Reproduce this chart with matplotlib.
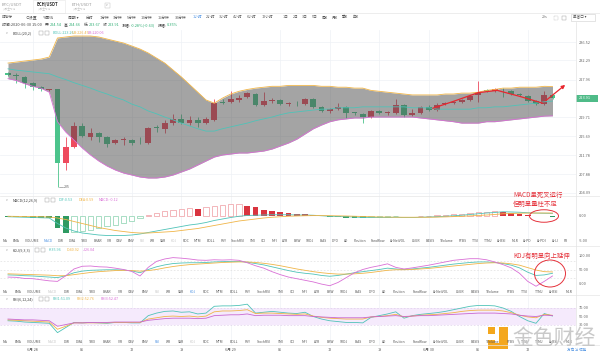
import numpy as np
import matplotlib.pyplot as plt
from matplotlib.patches import Rectangle, Ellipse
from matplotlib.ticker import NullLocator, NullFormatter

plt.rcParams['font.family'] = ['Noto Sans CJK SC', 'DejaVu Sans']

# BCH/USDT 1h candles, 2020-06-27 21:00 .. 2020-06-30 15:00
opens = [229.4, 229.1, 228.6, 227.2, 226.3, 225.6, 225.8, 210.15, 213.46, 217.9,
         215.5, 216.4, 215.5, 214.2, 215.0, 214.9, 214.3, 214.2, 217.7, 217.3,
         218.5, 219.4, 218.5, 219.2, 218.6, 219.2, 223.1, 223.05, 223.5, 224.1,
         224.8, 222.4, 223.3, 223.5, 222.6, 222.9, 222.6, 223.7, 222.0, 221.1,
         221.5, 222.0, 220.8, 220.5, 219.8, 221.1, 220.7, 220.7, 222.4, 220.3,
         220.7, 222.0, 221.3, 222.6, 222.8, 223.05, 223.5, 224.6, 225.6, 225.4,
         225.7, 225.4, 224.8, 224.3, 223.3, 222.6, 224.54]
highs = [229.6, 229.5, 228.8, 227.4, 226.5, 226.0, 226.0, 215.5, 218.75, 218.5,
         217.5, 216.6, 215.7, 215.1, 215.5, 215.1, 215.5, 217.7, 218.1, 219.2,
         220.5, 220.5, 220.0, 219.8, 219.8, 223.7, 223.7, 225.4, 224.6, 225.2,
         225.0, 225.2, 223.9, 223.7, 223.05, 223.3, 223.9, 223.9, 222.2, 221.8,
         222.8, 222.2, 220.9, 220.7, 221.3, 221.3, 221.0, 223.7, 222.6, 221.5,
         222.2, 222.4, 222.8, 223.0, 223.3, 223.7, 224.6, 227.6, 225.8, 226.1,
         226.1, 225.6, 225.0, 224.5, 223.5, 225.4, 224.66]
lows = [228.8, 227.3, 226.2, 225.7, 225.5, 225.4, 205.3, 208.7, 213.2, 215.5,
        214.9, 214.5, 213.4, 214.0, 213.8, 213.8, 214.0, 214.0, 216.6, 216.4,
        218.1, 218.3, 218.1, 217.7, 218.4, 219.0, 222.6, 222.8, 223.0, 223.9,
        222.2, 222.2, 222.8, 222.4, 222.2, 222.2, 222.4, 221.8, 220.9, 220.7,
        221.3, 219.6, 220.3, 218.5, 219.6, 220.5, 220.3, 220.5, 219.8, 220.0,
        220.5, 221.1, 221.1, 222.4, 222.6, 222.9, 223.3, 223.0, 225.2, 225.2,
        224.1, 224.6, 224.3, 223.1, 222.4, 222.4, 223.67]
closes = [229.0, 228.9, 227.2, 226.3, 225.8, 225.8, 210.15, 213.46, 217.9, 215.75,
          216.4, 215.5, 214.0, 214.9, 215.1, 214.2, 214.2, 217.5, 217.4, 218.5,
          219.4, 218.5, 219.2, 218.6, 219.4, 222.84, 222.9, 223.7, 223.9, 225.0,
          222.4, 223.3, 223.5, 222.6, 222.8, 222.8, 223.7, 222.0, 221.1, 221.55,
          222.0, 220.7, 220.7, 219.8, 221.1, 220.7, 220.9, 222.4, 220.3, 220.7,
          222.0, 221.3, 222.4, 222.8, 223.05, 223.5, 224.3, 225.2, 225.4, 225.8,
          225.6, 224.8, 224.55, 223.3, 222.6, 224.55, 223.91]

boll_up = [231.70, 231.93, 232.16, 232.38, 232.61, 233.07, 237.45, 237.68, 237.91, 237.91,
           237.91, 237.68, 237.21, 236.75, 236.29, 235.60, 234.90, 233.99, 232.84, 231.70,
           230.14, 228.6, 226.9, 225.2, 223.5, 222.8, 223.9, 224.8, 225.4, 225.8,
           226.1, 226.3, 226.5, 226.5, 226.7, 226.7, 226.7, 226.7, 226.5, 226.5,
           226.3, 226.3, 226.1, 226.1, 225.6, 225.4, 225.2, 225.0, 224.8, 224.6,
           224.6, 224.6, 224.6, 224.8, 224.8, 225.0, 225.0, 225.2, 225.6, 225.8,
           226.1, 226.1, 226.3, 226.3, 226.3, 226.5, 226.45]
boll_mid = [230.4, 230.1, 229.9, 229.7, 229.5, 229.3, 228.6, 228.0, 227.3, 226.7,
            226.1, 225.4, 224.8, 224.1, 223.5, 222.6, 222.0, 221.1, 220.5, 219.8,
            219.2, 218.5, 217.9, 217.3, 216.8, 216.8, 217.3, 217.7, 218.1, 218.5,
            219.0, 219.4, 219.8, 220.3, 220.7, 220.9, 221.1, 221.3, 221.5, 221.5,
            221.8, 221.8, 221.8, 222.0, 222.0, 222.0, 222.0, 222.0, 222.0, 221.8,
            221.8, 221.8, 221.5, 221.5, 221.5, 221.5, 221.5, 221.8, 221.8, 222.0,
            222.0, 222.2, 222.4, 222.6, 222.8, 223.1, 223.26]
boll_low = [228.2, 227.8, 227.1, 226.5, 226.1, 225.2, 218.8, 216.6, 214.9, 213.25,
            211.80, 210.56, 209.53, 208.72, 208.10, 207.70, 207.29, 207.09, 207.09, 207.29,
            207.70, 208.31, 208.92, 209.74, 210.56, 211.38, 211.80, 212.00, 212.21, 212.21,
            212.42, 212.62, 213.04, 213.67, 214.30, 215.1, 216.2, 217.3, 218.1, 218.8,
            219.2, 219.4, 219.6, 219.6, 219.8, 219.8, 219.8, 219.8, 219.8, 219.8,
            219.6, 219.4, 219.2, 219.0, 218.8, 218.5, 218.5, 218.5, 218.8, 218.8,
            219.0, 219.2, 219.4, 219.6, 219.8, 220.0, 220.06]

dif = [-0.15, -0.2, -0.25, -0.3, -0.35, -0.4, -1.5, -2.4, -3.0, -3.4,
       -3.6, -3.8, -3.9, -3.9, -3.9, -3.8, -3.6, -3.3, -3.0, -2.7,
       -2.4, -2.1, -1.8, -1.6, -1.3, -0.9, -0.6, -0.3, -0.05, 0.1,
       0.15, 0.2, 0.25, 0.25, 0.25, 0.2, 0.2, 0.15, 0.05, -0.05,
       -0.1, -0.15, -0.2, -0.3, -0.3, -0.3, -0.3, -0.25, -0.3, -0.3,
       -0.25, -0.2, -0.15, -0.05, 0.05, 0.15, 0.3, 0.45, 0.6, 0.7,
       0.85, 0.8, 0.75, 0.65, 0.58, 0.55, 0.53]
dea = [-0.05, -0.08, -0.1, -0.12, -0.15, -0.2, -0.4, -0.7, -1.1, -1.5,
       -1.9, -2.3, -2.6, -2.9, -3.1, -3.3, -3.4, -3.4, -3.3, -3.2,
       -3.1, -2.9, -2.7, -2.5, -2.2, -1.9, -1.6, -1.3, -1.0, -0.8,
       -0.6, -0.4, -0.25, -0.15, -0.05, 0.0, 0.05, 0.08, 0.08, 0.06,
       0.03, 0.0, -0.05, -0.1, -0.15, -0.2, -0.22, -0.24, -0.25, -0.25,
       -0.25, -0.25, -0.22, -0.18, -0.12, -0.06, 0.02, 0.1, 0.2, 0.3,
       0.45, 0.5, 0.55, 0.58, 0.6, 0.6, 0.59]
macd_hist = [-0.2, -0.25, -0.3, -0.35, -0.4, -0.4, -2.4, -3.4, -3.3, -3.1,
             -2.8, -2.5, -2.1, -1.8, -1.5, -1.1, -0.5, 0.1, 0.5, 0.9,
             1.2, 1.3, 1.5, 1.45, 1.8, 2.0, 2.2, 2.4, 2.45, 2.0,
             1.7, 1.2, 0.9, 0.7, 0.6, 0.4, 0.3, 0.15, -0.05, -0.2,
             -0.3, -0.4, -0.5, -0.5, -0.3, -0.2, -0.15, -0.05, -0.1, -0.1,
             0.03, 0.05, 0.1, 0.2, 0.3, 0.45, 0.6, 0.75, 0.85, 0.9,
             0.8, 0.6, 0.4, 0.1, -0.05, -0.1, -0.12]

kdj_k = [30, 29, 27, 26, 24, 22, 20, 27, 38, 44,
         47, 48, 49, 49, 48, 45, 38, 50, 60, 67,
         72, 74, 75, 75, 76, 78, 79, 80, 80, 77,
         72, 67, 60, 53, 46, 40, 36, 33, 28, 25,
         28, 33, 38, 42, 46, 50, 55, 52, 50, 52,
         55, 58, 62, 66, 70, 73, 76, 78, 78, 76,
         72, 66, 56, 40, 28, 30, 35.96]
kdj_d = [34, 33, 32, 31, 30, 29, 27, 27, 31, 35,
         39, 42, 44, 46, 47, 46, 44, 46, 50, 56,
         61, 65, 68, 70, 72, 74, 76, 77, 78, 78,
         76, 73, 69, 64, 58, 52, 47, 42, 38, 35,
         33, 33, 34, 36, 39, 43, 47, 49, 49, 50,
         52, 54, 57, 60, 63, 66, 69, 72, 74, 75,
         74, 71, 66, 57, 48, 42, 40.92]
kdj_j = [22, 21, 17, 16, 12, 8, 6, 27, 52, 62,
         63, 60, 59, 55, 50, 43, 26, 58, 80, 89,
         94, 92, 89, 85, 84, 86, 85, 86, 84, 75,
         64, 55, 42, 31, 22, 16, 10, 4, -4, -10,
         2, 20, 38, 50, 58, 64, 71, 58, 52, 56,
         61, 66, 72, 78, 84, 87, 90, 90, 86, 78,
         68, 56, 36, 6, -12, 6, 26.04]

rsi1 = [40, 39, 37, 36, 35, 34, 12, 24, 36, 35,
        36, 35, 34, 36, 36, 35, 35, 52, 58, 62,
        63, 60, 61, 56, 58, 74, 75, 75, 76, 79,
        58, 60, 62, 60, 58, 57, 60, 50, 44, 40,
        38, 36, 36, 35, 48, 52, 56, 61, 46, 52,
        55, 57, 59, 62, 66, 70, 74, 76, 76, 75,
        70, 62, 50, 40, 34, 57, 51.09]
rsi2 = [42, 41, 40, 39, 38, 37, 20, 27, 35, 35,
        35, 35, 35, 36, 36, 36, 36, 44, 47, 50,
        51, 50, 51, 49, 51, 61, 63, 63, 64, 66,
        57, 58, 58, 57, 56, 55, 56, 51, 48, 46,
        45, 44, 44, 44, 49, 50, 52, 55, 49, 51,
        53, 54, 55, 57, 59, 62, 64, 65, 65, 65,
        63, 59, 53, 49, 47, 55, 52.76]
rsi3 = [44, 43, 42, 42, 41, 40, 27, 31, 35, 35,
        36, 36, 36, 37, 37, 37, 37, 41, 43, 45,
        46, 46, 46, 45, 46, 52, 53, 54, 54, 56,
        52, 53, 53, 53, 52, 52, 52, 50, 49, 48,
        47, 47, 47, 47, 49, 50, 51, 52, 50, 51,
        52, 52, 53, 54, 55, 56, 57, 58, 58, 58,
        57, 56, 53, 51, 50, 53, 52.47]

price_ticks = [236.52, 232.29, 227.96, 219.71, 215.69, 211.78, 207.88, 204.09]
last_price = 223.91
date_ticks = [3, 9, 15, 21, 27, 33, 39, 45, 51, 57, 63]
date_labels = ['6月 28', '06', '12', '18', '6月 29', '06', '12', '18', '6月 30', '06', '12']

# hand drawn red trend line on the chart (candle index, price)
trend_i = [51.5, 54, 57, 59.3, 62, 64.8]
trend_p = [221.7, 223.2, 225.1, 225.6, 224.3, 222.8]
arrow_tip = (67.8, 227.2)

periods = ['分时', '1分钟', '3分钟', '5分钟', '10分钟', '15分钟', '30分钟', '1小时', '2小时', '3小时',
           '4小时', '6小时', '12小时', '1日', '2日', '3日', '5日', '周K', '月K', '季K', '年K']
period_x = [86, 100, 113, 127, 141, 158, 175, 193, 206, 219, 233, 247, 262, 283, 293, 302, 312, 322, 332, 342, 353]
tabs_main = ('MA EMA VOLUME MACD DMI DMA TRIX BRAR VR OBV EMV RSI WR SAR KDJ ROC MTM BOLL PSY StochRSI '
             'SMI CCI MFI ATR BBW SKDJ BIAS DPO AD Position Fundflow AI-NetVOL LSUR BASIS TVolume FTBS '
             'TTSI TTMJ AI-BSI MLR').split()
tabs_extra = ['AI-PD', 'AI-PDI', 'AI-LI', 'FR']

W, H = 600, 355
RIGHT = 576
X0, STEP = 8, 8.25
XLIM = (-X0 / STEP, (RIGHT - X0) / STEP)

RED, GREEN = '#ee4b5e', '#4cc48c'
TEAL, ORANGE, PINK = '#4fc3b8', '#f0b548', '#d96fd6'
GRID = '#eef1f6'
TXT = '#666666'
DARK = '#444444'

fig = plt.figure(figsize=(W / 100, H / 100), dpi=100)


def rect(x0, y0, x1, y1):
    return [x0 / W, 1 - y1 / H, (x1 - x0) / W, (y1 - y0) / H]


def panel(y0, y1):
    ax = fig.add_axes(rect(0, y0, RIGHT, y1))
    ax.set_xlim(*XLIM)
    for s in ax.spines.values():
        s.set_visible(False)
    ax.set_xticks([])
    ax.yaxis.tick_right()
    ax.tick_params(axis='y', length=0, pad=2, labelsize=2.8, labelcolor=TXT)
    for d in date_ticks:
        ax.axvline(d, color=GRID, lw=0.5, zorder=0)
    return ax


x = np.arange(len(closes))
o, hi, lo, c = map(np.array, (opens, highs, lows, closes))
up = c >= o
cols = np.where(up, RED, GREEN)

# ---- main candle + BOLL panel ----
ax = panel(30, 196)
ax.set_yscale('log')
ax.set_ylim(203.48, 239.31)
ax.yaxis.set_minor_locator(NullLocator())
ax.yaxis.set_minor_formatter(NullFormatter())
ax.set_yticks(price_ticks)
ax.set_yticklabels([f'{v:.2f}' for v in price_ticks])
for v in price_ticks:
    ax.axhline(v, color=GRID, lw=0.5, zorder=0)
ax.vlines(x, lo, hi, colors=cols, lw=0.6, zorder=2)
ax.bar(x, np.maximum(np.abs(c - o), 0.08), bottom=np.minimum(o, c), width=0.72,
       color=cols, lw=0, zorder=2)
ax.fill_between(x, boll_low, boll_up, color='#4a4a4a', alpha=0.5, lw=0, zorder=3)
ax.plot(x, boll_up, color=ORANGE, lw=0.6, zorder=4)
ax.plot(x, boll_low, color=PINK, lw=0.6, zorder=4)
ax.plot(x, boll_mid, color=TEAL, lw=0.6, zorder=4)
ilow = int(np.argmin(lo))
ax.plot([ilow + 0.2, ilow + 0.7], [lo[ilow]] * 2, color='#777', lw=0.4, zorder=5)
ax.text(ilow + 0.8, lo[ilow], f'{lo[ilow]:.0f}', fontsize=2.6, color='#555', va='center')
ax.plot(trend_i, trend_p, color='#e8262e', lw=0.9, zorder=6)
ax.annotate('', xy=arrow_tip, xytext=(trend_i[-1], trend_p[-1]),
            arrowprops=dict(arrowstyle='-|>', color='#e8262e', lw=0.9, mutation_scale=5))

# ---- MACD ----
am = panel(196, 246)
am.set_ylim(-6.0, 4.0)
am.set_yticks([0, -5])
am.set_yticklabels(['0.00', '-5.00'])
hist = np.array(macd_hist)
prev = np.r_[hist[0], hist[:-1]]
for i, v in enumerate(hist):
    if v >= 0:
        fill_c, edge_c = '#d9343f', '#ee9aa0'
    else:
        fill_c, edge_c = '#2e9a62', '#86d0ad'
    if v <= prev[i]:
        am.bar(i, v, width=0.7, color=fill_c, lw=0, zorder=2)
    else:
        am.bar(i, v, width=0.62, facecolor='white', edgecolor=edge_c, lw=0.5, zorder=2)
am.plot(x, dif, color=TEAL, lw=0.6, zorder=3)
am.plot(x, dea, color=ORANGE, lw=0.6, zorder=3)

# ---- KDJ ----
ak = panel(246, 295)
ak.set_ylim(-44.4, 137.0)
ak.set_yticks([100, 50, 0])
ak.set_yticklabels(['100.00', '50.00', '0.00'])
for v in (80, 50, 20):
    ak.axhline(v, color='#d9d9d9', lw=0.4, ls=(0, (3, 3)), zorder=0)
ak.plot(x, kdj_k, color=TEAL, lw=0.6)
ak.plot(x, kdj_d, color=ORANGE, lw=0.6)
ak.plot(x, kdj_j, color=PINK, lw=0.6)

# ---- RSI ----
ar = panel(295, 345)
ar.set_ylim(-17.1, 100.6)
ar.set_yticks([70, 50, 30])
ar.set_yticklabels(['70.00', '50.00', '30.00'])
ar.axhspan(30, 70, color='#f5eafc', lw=0, zorder=0)
for v in (70, 30):
    ar.axhline(v, color='#d9c9e6', lw=0.4, ls=(0, (3, 3)), zorder=0)
ar.plot(x, rsi1, color=TEAL, lw=0.6)
ar.plot(x, rsi2, color=ORANGE, lw=0.6)
ar.plot(x, rsi3, color='#c866d0', lw=0.6)

# ---- overlay in pixel coordinates ----
ov = fig.add_axes([0, 0, 1, 1], zorder=5)
ov.set_xlim(0, W)
ov.set_ylim(H, 0)
ov.axis('off')


def t(xp, yp, s, size=2.7, color=TXT, **kw):
    return ov.text(xp, yp, s, fontsize=size, color=color, va='center', **kw)


for yy in (12.5, 196, 246, 295, 345):
    ov.plot([0, W], [yy, yy], color='#e6e6e6', lw=0.5)
ov.plot([RIGHT, RIGHT], [22, 345], color='#e3e3e3', lw=0.5)

# pair tabs
ov.add_patch(Rectangle((33, 0), 32, 12.5, facecolor='white', edgecolor='#e6e6e6', lw=0.4))
t(2, 4.2, 'BTC/USDT', 3.0, '#999')
t(37, 4.2, 'BCH/USDT', 3.0, '#333', fontweight='bold')
t(72, 4.2, 'ETH/USDT', 3.0, '#999')
for xp in (3, 38, 73):
    t(xp, 9, '火币全球站', 1.9, '#c4c4c4')
ov.add_patch(Rectangle((105, 3), 5, 5, facecolor='white', edgecolor='#bbb', lw=0.3))
t(106.2, 5.3, 'v', 2.2, '#999')

# toolbar
t(2, 17.5, '⊟指标', 2.8, '#555')
t(25, 17.5, '⊙设置', 2.8, '#555')
t(43, 17.5, '✎画线', 2.8, '#555')
t(68, 17.5, '周期 ▾', 2.8, '#555')
for p, xp in zip(periods, period_x):
    t(xp, 17.5, p, 2.7, '#4a90e2' if p == '1小时' else '#555')
t(542, 17.5, '29s', 2.7, '#777')
# full-screen / layout icons drawn as small shapes
ov.add_patch(Rectangle((553.5, 15.5), 4, 4, fill=False, edgecolor='#999', lw=0.3, ls=(0, (1, 1))))
ov.add_patch(Rectangle((561.5, 15.5), 4, 4, fill=False, edgecolor='#999', lw=0.3))
ov.add_patch(Rectangle((571, 14), 24, 7, facecolor='white', edgecolor='#cfcfcf', lw=0.4))
t(573, 17.5, '单窗口 ▾', 2.6, '#555')

# info row: placed piece by piece after measuring
info = [('时间:2020-06-30 15:00', DARK, 2.6), ('开:', DARK, 0), ('224.54', '#2fae74', 2.6),
        ('高:', DARK, 0), ('224.66', '#2fae74', 2.6), ('低:', DARK, 0), ('223.67', '#2fae74', 2.6),
        ('收:', DARK, 0), ('223.91', '#2fae74', 2.6), ('涨幅:', DARK, 0),
        ('-0.28%(-0.63)', '#2fae74', 2.6), ('振幅:', DARK, 0), ('0.35%', '#2fae74', 0)]
info_txt = [(t(2, 25.5, s, 2.75, col), g) for s, col, g in info]


def header(y, name, icon_x, items):
    t(6, y, 'v', 2.3, '#999')
    t(13, y, name, 2.7, DARK)
    for ix in icon_x:
        ov.add_patch(Rectangle((ix, y - 2), 4, 4, facecolor='white', edgecolor='#999', lw=0.3))
    for xp, s, col in items:
        t(xp, y, s, 2.7, col)


header(33, 'BOLL(20,2)', (39, 45), [(53, 'BOLL:223.26', TEAL), (72, 'UB:226.45', ORANGE),
                                    (88, 'LB:220.06', PINK)])
header(200, 'MACD(12,26,9)', (45, 51), [(59, 'DIF:0.53', TEAL), (79, 'DEA:0.59', ORANGE),
                                        (99, 'MACD:-0.12', PINK)])
header(250, 'KDJ(9,3,3)', (35, 41), [(49, 'K:35.96', TEAL), (67, 'D:40.92', ORANGE),
                                     (83, 'J:26.04', PINK)])
header(299, 'RSI(6,12,24)', (39, 45), [(53, 'RSI1:51.09', TEAL), (77, 'RSI2:52.76', ORANGE),
                                       (101, 'RSI3:52.47', PINK)])

# indicator tab rows
rows = []
for yy, words, active, x1 in ((241.5, tabs_main + tabs_extra, 'MACD', 568),
                              (292, tabs_main, 'KDJ', 572),
                              (342, tabs_main, 'RSI', 572)):
    ts = []
    for w in words:
        if w == active:
            col = '#4a90e2'
        elif w in ('MACD', 'KDJ', 'RSI'):
            col = '#c8c8c8'
        else:
            col = '#555'
        ts.append(t(3, yy, w, 2.4, col))
    rows.append((ts, 3, x1))

# date labels
for d, s in zip(date_ticks, date_labels):
    t(X0 + STEP * d, 350, s, 2.7, '#555', ha='center')

# last price tag
ov.add_patch(Rectangle((RIGHT, 94.5), 22, 7, facecolor='#4fbb88', lw=0))
t(579, 98, f'{last_price:.2f}', 2.8, 'white')

# author's red notes
RN = '#e5323b'
t(513, 194.5, 'MACD呈死叉运行', 4.6, RN)
t(513, 204, '但明显量柱不足', 4.6, RN)
ov.add_patch(Ellipse((544, 216), 29, 12.5, fill=False, edgecolor=RN, lw=0.7))
t(513, 256, 'KDJ有明显向上延伸', 4.6, RN)
ov.add_patch(Ellipse((550, 273.5), 31, 27, fill=False, edgecolor=RN, lw=0.7))

# watermark
GOLD = '#f4a71d'
ov.add_patch(Rectangle((499, 327), 8.5, 22, facecolor=GOLD, lw=0))
ov.add_patch(Rectangle((488, 340), 19.5, 9, facecolor=GOLD, lw=0))
ov.add_patch(Rectangle((488, 327), 7, 7, facecolor=GOLD, lw=0))
ov.add_patch(Rectangle((494.5, 340), 4.5, 3, facecolor='white', lw=0))
t(512, 338, '金色财经', 15, '#c6c6c6', alpha=0.95)
t(567, 349.5, '方向 ⇲ 切换', 2.6, '#4a90e2')

# position text runs from measured widths
fig.canvas.draw()
r = fig.canvas.get_renderer()
pos = 2
for txt, gap in info_txt:
    txt.set_x(pos)
    pos += txt.get_window_extent(r).width + gap
for ts, x0, x1 in rows:
    ws = [tt.get_window_extent(r).width for tt in ts]
    gap = (x1 - x0 - sum(ws)) / (len(ts) - 1)
    pos = x0
    for tt, w in zip(ts, ws):
        tt.set_x(pos)
        pos += w + gap

fig.savefig('out.png', dpi=100)
